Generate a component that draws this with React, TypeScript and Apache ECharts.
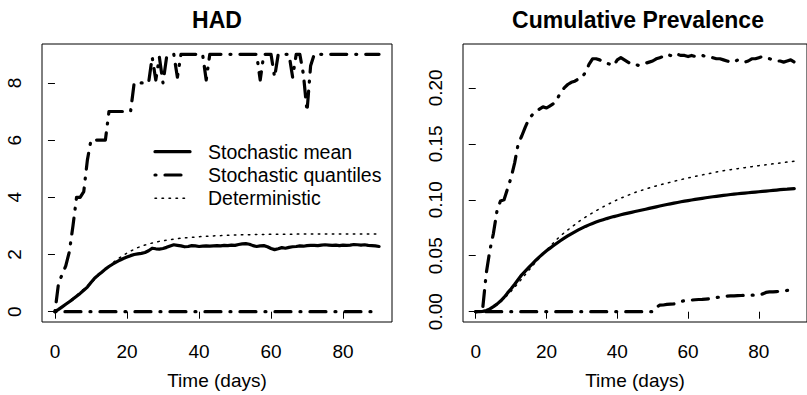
import React, { useEffect, useRef } from "react";
import * as echarts from "echarts";

const days: number[] = Array.from({ length: 91 }, (_, i) => i);

const hadMean = [
  0, 0.08, 0.17, 0.26, 0.35, 0.44, 0.54, 0.64, 0.75, 0.86,
  1.02, 1.17, 1.28, 1.38, 1.49, 1.58, 1.66, 1.73, 1.8, 1.86,
  1.91, 1.96, 2.0, 2.02, 2.04, 2.07, 2.13, 2.22, 2.2, 2.19,
  2.21, 2.25, 2.3, 2.34, 2.32, 2.3, 2.27, 2.28, 2.31, 2.3,
  2.28, 2.29, 2.3, 2.29, 2.3, 2.31, 2.3, 2.32, 2.31, 2.33,
  2.32, 2.35, 2.37, 2.38, 2.36, 2.31, 2.28, 2.3, 2.31, 2.27,
  2.21, 2.17, 2.2, 2.24, 2.22, 2.25, 2.27, 2.28, 2.3, 2.29,
  2.31, 2.32, 2.32, 2.31, 2.33, 2.34, 2.33, 2.32, 2.33, 2.31,
  2.33, 2.32, 2.33, 2.35, 2.34, 2.33, 2.34, 2.32, 2.31, 2.3,
  2.28,
];

const hadUpper = [
  0, 1, 1.3, 1.6, 2.1, 3, 4, 4, 4.2, 5.3,
  6, 6, 6, 6, 6, 7, 7, 7, 7, 7,
  7, 7, 8, 8, 8, 8, 8, 8.9, 8.1, 8.9,
  8, 8.9, 9, 9, 8.2, 9, 9, 9, 9, 9,
  9, 9, 8.1, 9, 9, 9, 9, 9, 9, 9,
  9, 9, 9, 9, 9, 9, 9, 8.1, 9, 9,
  9, 8.2, 9, 9, 9, 9, 8.2, 9, 9, 8.3,
  7, 8.6, 9, 9, 9, 9, 9, 9, 9, 9,
  9, 9, 9, 9, 9, 9, 9, 9, 9, 9,
  9,
];

const hadLower = [
  0, 0, 0, 0, 0, 0, 0, 0, 0, 0,
  0, 0, 0, 0, 0, 0, 0, 0, 0, 0,
  0, 0, 0, 0, 0, 0, 0, 0, 0, 0,
  0, 0, 0, 0, 0, 0, 0, 0, 0, 0,
  0, 0, 0, 0, 0, 0, 0, 0, 0, 0,
  0, 0, 0, 0, 0, 0, 0, 0, 0, 0,
  0, 0, 0, 0, 0, 0, 0, 0, 0, 0,
  0, 0, 0, 0, 0, 0, 0, 0, 0, 0,
  0, 0, 0, 0, 0, 0, 0, 0, 0, 0,
  0,
];

const hadDet = [
  0, 0.09, 0.18, 0.27, 0.37, 0.47, 0.57, 0.68, 0.79, 0.9,
  1.01, 1.13, 1.25, 1.37, 1.49, 1.6, 1.7, 1.8, 1.89, 1.97,
  2.05, 2.12, 2.18, 2.24, 2.29, 2.33, 2.37, 2.4, 2.43, 2.46,
  2.48, 2.5, 2.52, 2.54, 2.55, 2.57, 2.58, 2.59, 2.6, 2.61,
  2.62, 2.63, 2.64, 2.64, 2.65, 2.66, 2.66, 2.67, 2.67, 2.68,
  2.68, 2.68, 2.69, 2.69, 2.69, 2.7, 2.7, 2.7, 2.7, 2.7,
  2.71, 2.71, 2.71, 2.71, 2.71, 2.71, 2.71, 2.71, 2.72, 2.72,
  2.72, 2.72, 2.72, 2.72, 2.72, 2.72, 2.72, 2.72, 2.72, 2.72,
  2.72, 2.72, 2.72, 2.72, 2.72, 2.72, 2.72, 2.72, 2.72, 2.72,
  2.72,
];

const cpMean = [
  0, 0, 0.0003, 0.0011, 0.0025, 0.0045, 0.0068, 0.0095, 0.0128, 0.0168,
  0.0205, 0.0245, 0.0287, 0.033, 0.0363, 0.0396, 0.0428, 0.046, 0.049, 0.0518,
  0.0544, 0.0568, 0.0591, 0.0614, 0.0636, 0.0657, 0.0677, 0.0696, 0.0714, 0.0731,
  0.0747, 0.0762, 0.0776, 0.0789, 0.0801, 0.0812, 0.0822, 0.0832, 0.0841, 0.085,
  0.0858, 0.0866, 0.0874, 0.0881, 0.0888, 0.0895, 0.0902, 0.0909, 0.0916, 0.0923,
  0.093, 0.0937, 0.0944, 0.0951, 0.0958, 0.0964, 0.097, 0.0976, 0.0982, 0.0988,
  0.0993, 0.0998, 0.1003, 0.1008, 0.1013, 0.1018, 0.1023, 0.1027, 0.1031, 0.1035,
  0.1039, 0.1043, 0.1047, 0.1051, 0.1054, 0.1057, 0.106, 0.1063, 0.1066, 0.1069,
  0.1072, 0.1075, 0.1078, 0.1081, 0.1084, 0.1087, 0.109, 0.1093, 0.1095, 0.1098,
  0.11,
];

const cpUpper = [
  0, 0, 0.004, 0.035, 0.055, 0.07, 0.09, 0.099, 0.1, 0.11,
  0.12, 0.133, 0.15, 0.157, 0.165, 0.172, 0.176, 0.179, 0.181, 0.183,
  0.182, 0.184, 0.186, 0.19, 0.196, 0.2, 0.203, 0.205, 0.206, 0.208,
  0.209, 0.214, 0.221, 0.226, 0.226, 0.225, 0.223, 0.222, 0.221, 0.22,
  0.225, 0.227, 0.225, 0.223, 0.221, 0.221, 0.22, 0.221, 0.222, 0.223,
  0.224, 0.226, 0.227, 0.228, 0.23, 0.229, 0.228, 0.23, 0.229, 0.229,
  0.228, 0.229, 0.228, 0.229, 0.229, 0.228, 0.227, 0.227, 0.226, 0.226,
  0.225, 0.224, 0.223, 0.223, 0.225, 0.224, 0.223, 0.224, 0.226, 0.226,
  0.227, 0.228, 0.227, 0.226, 0.225, 0.224, 0.224, 0.223, 0.224, 0.225,
  0.223,
];

const cpLower = [
  0, 0, 0, 0, 0, 0, 0, 0, 0, 0,
  0, 0, 0, 0, 0, 0, 0, 0, 0, 0,
  0, 0, 0, 0, 0, 0, 0, 0, 0, 0,
  0, 0, 0, 0, 0, 0, 0, 0, 0, 0,
  0, 0, 0, 0, 0, 0, 0, 0, 0, 0,
  0, 0.004, 0.0058, 0.006, 0.0065, 0.0068, 0.007, 0.008, 0.0092, 0.0098,
  0.01, 0.0104, 0.0107, 0.0109, 0.011, 0.0113, 0.0116, 0.012, 0.0126, 0.0132,
  0.0137, 0.014, 0.0141, 0.0142, 0.0144, 0.0145, 0.0146, 0.0147, 0.0148, 0.0149,
  0.015, 0.0158, 0.0172, 0.0177, 0.0178, 0.018, 0.0182, 0.0185, 0.019, 0.0194,
  0.0197,
];

const cpDet = [
  0, 0.0002, 0.0006, 0.0014, 0.0026, 0.0042, 0.0063, 0.0088, 0.0117, 0.0149,
  0.0183, 0.0219, 0.0256, 0.0294, 0.0332, 0.037, 0.0408, 0.0445, 0.0481, 0.0516,
  0.055, 0.0584, 0.0617, 0.0649, 0.068, 0.0705, 0.073, 0.0754, 0.0778, 0.0802,
  0.0825, 0.0845, 0.0864, 0.0883, 0.0902, 0.092, 0.0937, 0.0953, 0.0969, 0.0985,
  0.1, 0.1014, 0.1027, 0.104, 0.1053, 0.1065, 0.1076, 0.1086, 0.1096, 0.1106,
  0.1115, 0.1124, 0.1133, 0.1141, 0.1149, 0.1157, 0.1165, 0.1173, 0.118, 0.1188,
  0.1195, 0.1202, 0.1209, 0.1216, 0.1222, 0.1229, 0.1235, 0.1242, 0.1248, 0.1254,
  0.126, 0.1265, 0.1269, 0.1274, 0.1278, 0.1283, 0.1287, 0.1292, 0.1296, 0.1301,
  0.1305, 0.1309, 0.1313, 0.1317, 0.1321, 0.1325, 0.1329, 0.1333, 0.1337, 0.1341,
  0.1345,
];

const xTicks = [0, 20, 40, 60, 80];
const hadTicks = [0, 2, 4, 6, 8];
const cpTicks = [0, 0.05, 0.1, 0.15, 0.2];

const legendNames = ["Stochastic mean", "Stochastic quantiles", "Deterministic"];
const titles = ["HAD", "Cumulative Prevalence"];

const FONT = "'Liberation Sans', Arial, Helvetica, sans-serif";
const DOTDASH = [1, 9, 16, 9];
const DOTTED = [1.5, 5.5];

function pairs(vals: number[]) {
  return days.map((d, i) => [d, vals[i]]);
}

function lineSeries(name: string, vals: number[], idx: number, kind: "solid" | "dotdash" | "dotted") {
  const ls: any = { color: "#000", width: 3.2, type: "solid", cap: "round", join: "round" };
  if (kind === "dotdash") ls.type = DOTDASH;
  if (kind === "dotted") {
    ls.type = DOTTED;
    ls.width = 1.5;
  }
  return {
    type: "line",
    name,
    xAxisIndex: idx,
    yAxisIndex: idx,
    data: pairs(vals),
    showSymbol: false,
    symbol: "none",
    lineStyle: ls,
    silent: true,
  };
}

function xAxis(idx: number) {
  return {
    type: "value",
    gridIndex: idx,
    min: -3.6,
    max: 93.6,
    axisLine: { show: false },
    splitLine: { show: false },
    axisTick: { show: true, customValues: xTicks, length: 7, lineStyle: { color: "#000", width: 1 } },
    axisLabel: { customValues: xTicks, fontSize: 19, color: "#000", fontFamily: FONT, margin: 20 },
    name: "Time (days)",
    nameLocation: "middle",
    nameGap: 49,
    nameTextStyle: { fontSize: 19, color: "#000", fontFamily: FONT },
  };
}

function yAxis(idx: number, min: number, max: number, ticks: number[], digits: number) {
  return {
    type: "value",
    gridIndex: idx,
    min,
    max,
    axisLine: { show: false },
    splitLine: { show: false },
    axisTick: { show: true, customValues: ticks, length: 7, lineStyle: { color: "#000", width: 1 } },
    axisLabel: {
      customValues: ticks,
      fontSize: 19,
      color: "#000",
      fontFamily: FONT,
      rotate: 90,
      margin: 18,
      formatter: (v: number) => v.toFixed(digits),
    },
  };
}

export default function App() {
  const ref = useRef<HTMLDivElement>(null);
  useEffect(() => {
    if (!ref.current) return;
    const chart = echarts.init(ref.current, null, { renderer: "svg" });
    const legendY = [151.7, 175, 198.3];
    const legendKinds = ["solid", "dotdash", "dotted"];
    const graphics: any[] = [];
    legendNames.forEach((n, i) => {
      const style: any = { stroke: "#000", lineWidth: 3.2, lineCap: "round" };
      if (legendKinds[i] === "dotdash") style.lineDash = DOTDASH;
      if (legendKinds[i] === "dotted") {
        style.lineDash = DOTTED;
        style.lineWidth = 1.5;
      }
      graphics.push({
        type: "line",
        shape: { x1: 155, y1: legendY[i], x2: 190, y2: legendY[i] },
        style,
        silent: true,
      });
      graphics.push({
        type: "text",
        x: 208,
        y: legendY[i],
        style: {
          text: n,
          fill: "#000",
          fontSize: 19.5,
          fontFamily: FONT,
          textAlign: "left",
          textVerticalAlign: "middle",
        },
        silent: true,
      });
    });
    chart.setOption({
      animation: false,
      backgroundColor: "#fff",
      title: [
        {
          text: titles[0],
          left: 217,
          top: 8,
          padding: 0,
          textAlign: "center",
          textStyle: { fontSize: 23, fontWeight: "bold", color: "#000", fontFamily: FONT },
        },
        {
          text: titles[1],
          left: 638,
          top: 8,
          padding: 0,
          textAlign: "center",
          textStyle: { fontSize: 23, fontWeight: "bold", color: "#000", fontFamily: FONT },
        },
      ],
      grid: [
        { left: 42, top: 44, width: 350, height: 280, show: true, borderColor: "#000", borderWidth: 1, backgroundColor: "transparent" },
        { left: 463, top: 44, width: 350, height: 280, show: true, borderColor: "#000", borderWidth: 1, backgroundColor: "transparent" },
      ],
      xAxis: [xAxis(0), xAxis(1)],
      yAxis: [yAxis(0, -0.36, 9.36, hadTicks, 0), yAxis(1, -0.0092, 0.2392, cpTicks, 2)],
      series: [
        lineSeries(legendNames[0], hadMean, 0, "solid"),
        lineSeries(legendNames[1], hadUpper, 0, "dotdash"),
        lineSeries(legendNames[1], hadLower, 0, "dotdash"),
        lineSeries(legendNames[2], hadDet, 0, "dotted"),
        lineSeries(legendNames[0], cpMean, 1, "solid"),
        lineSeries(legendNames[1], cpUpper, 1, "dotdash"),
        lineSeries(legendNames[1], cpLower, 1, "dotdash"),
        lineSeries(legendNames[2], cpDet, 1, "dotted"),
      ],
      graphic: graphics,
    });
    return () => chart.dispose();
  }, []);
  return (
    <div
      ref={ref}
      style={{ position: "fixed", left: 0, top: 0, width: 807, height: 395, background: "#fff" }}
    />
  );
}
